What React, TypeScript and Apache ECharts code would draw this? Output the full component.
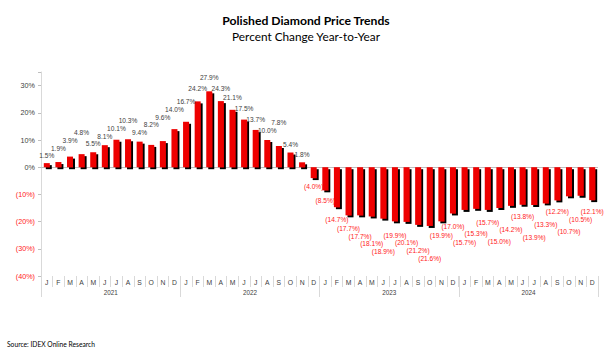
import React, { useEffect, useRef } from 'react';
import * as echarts from 'echarts';

const months = ['J', 'F', 'M', 'A', 'M', 'J', 'J', 'A', 'S', 'O', 'N', 'D'];
const years = ['2021', '2022', '2023', '2024'];
const change2021 = [1.5, 1.9, 3.9, 4.8, 5.5, 8.1, 10.1, 10.3, 9.4, 8.2, 9.6, 14.0];
const change2022 = [16.7, 24.2, 27.9, 24.3, 21.1, 17.5, 13.7, 10.0, 7.8, 5.4, 1.8, -4.0];
const change2023 = [-8.5, -14.7, -17.7, -17.7, -18.1, -18.9, -19.9, -20.1, -21.2, -21.6, -19.9, -17.0];
const change2024 = [-15.7, -15.3, -15.7, -15.0, -14.2, -13.8, -13.9, -13.3, -12.2, -10.7, -10.5, -12.1];
const yTickStep = 10;
const yMin = -40;

const title = 'Polished Diamond Price Trends';
const subtitle = 'Percent Change Year-to-Year';
const source = 'Source: IDEX Online Research';

const fmtPct = (v: number, digits: number) =>
  v < 0 ? `(${Math.abs(v).toFixed(digits)}%)` : `${v.toFixed(digits)}%`;

const LABEL_FONT_SIZE = 6.6;
const LABEL_FONT = 'Liberation Sans';

export default function App() {
  const ref = useRef<HTMLDivElement>(null);
  useEffect(() => {
    if (!ref.current) return;
    const chart = echarts.init(ref.current, null, { renderer: 'svg' });
    const values = [...change2021, ...change2022, ...change2023, ...change2024];
    const categories = years.flatMap((y) => months.map((m, i) => `${m}|${y}|${i}`));
    const red = '#FF1A1A';

    const baseOption: any = {
      animation: false,
      grid: { left: 41, right: 11, top: 72, bottom: 84 },
      graphic: [
        {
          type: 'text',
          x: 306,
          y: 20,
          style: {
            text: title,
            font: 'bold 12.2px Lato',
            fill: '#000',
            textAlign: 'center',
            textVerticalAlign: 'middle',
          },
        },
        {
          type: 'text',
          x: 306,
          y: 36.5,
          style: {
            text: subtitle,
            font: '11.8px Lato',
            fill: '#000',
            textAlign: 'center',
            textVerticalAlign: 'middle',
          },
        },
        {
          type: 'text',
          x: 7,
          y: 344,
          style: {
            text: source,
            font: '6.7px Lato',
            fill: '#000',
            textAlign: 'left',
            textVerticalAlign: 'middle',
          },
        },
      ],
      xAxis: [
        {
          type: 'category',
          data: categories,
          position: 'bottom',
          axisLine: { show: false, onZero: false },
          axisTick: { show: true, interval: 0, length: 11, lineStyle: { color: '#d9d9d9' } },
          axisLabel: {
            interval: 0,
            margin: 3,
            fontSize: 6.8,
            fontFamily: 'Liberation Sans',
            color: '#404040',
            formatter: (v: string) => v.split('|')[0],
          },
        },
        {
          type: 'category',
          data: years,
          position: 'bottom',
          axisLine: { show: false, onZero: false },
          axisTick: { show: true, interval: 0, length: 21, lineStyle: { color: '#d9d9d9' } },
          axisLabel: {
            interval: 0,
            margin: 13,
            fontSize: 6.3,
            fontFamily: 'Liberation Sans',
            color: '#404040',
          },
        },
      ],
      yAxis: {
        type: 'value',
        min: yMin,
        max: 35,
        interval: yTickStep,
        splitLine: { show: false },
        axisLine: { show: true, lineStyle: { color: '#d9d9d9' } },
        axisTick: { show: true, length: 3, lineStyle: { color: '#bfbfbf' } },
        axisLabel: {
          margin: 6,
          fontSize: 7.2,
          fontFamily: 'Liberation Sans',
          color: (v: any) => (Number(v) < 0 ? red : '#404040'),
          formatter: (v: number) => (v % yTickStep === 0 ? fmtPct(v, 0) : ''),
        },
      },
      series: [
        {
          type: 'bar',
          xAxisIndex: 0,
          data: values,
          barWidth: 6,
          itemStyle: {
            color: '#EE0000',
            shadowColor: '#000',
            shadowOffsetX: 2,
            shadowOffsetY: 2,
            shadowBlur: 0,
          },
          label: {
            show: true,
            fontSize: LABEL_FONT_SIZE,
            fontFamily: LABEL_FONT,
            formatter: (p: any) => fmtPct(p.value, 1),
          },
          markLine: {
            silent: true,
            symbol: 'none',
            label: { show: false },
            lineStyle: { color: '#bfbfbf', type: 'solid', width: 1 },
            data: [{ yAxis: 0 }],
            z: 1,
          },
        },
      ],
    };
    chart.setOption(baseOption);

    // Stagger the value labels so neighbours don't collide (like the hand-placed originals).
    const canvas = document.createElement('canvas');
    const ctx = canvas.getContext('2d')!;
    ctx.font = `${LABEL_FONT_SIZE}px "${LABEL_FONT}"`;
    const h = LABEL_FONT_SIZE + 1;
    const placed: { x1: number; x2: number; y1: number; y2: number }[] = [];
    const data = values.map((v, i) => {
      const neg = v < 0;
      const [cx, yEnd] = chart.convertToPixel({ gridIndex: 0 }, [i, v]) as number[];
      const w = ctx.measureText(fmtPct(v, 1)).width + 1;
      const x1 = cx - w / 2;
      const x2 = cx + w / 2;
      const d = neg ? 3 + Math.abs(v) * 0.35 : 3 + v * 0.25;
      let y1 = neg ? yEnd + d : yEnd - d - h;
      let moved = true;
      let guard = 0;
      while (moved && guard++ < 50) {
        moved = false;
        for (const r of placed) {
          if (r.x2 <= x1 || r.x1 >= x2) continue;
          if (r.y2 <= y1 || r.y1 >= y1 + h) continue;
          y1 = neg ? r.y2 : r.y1 - h;
          moved = true;
        }
      }
      placed.push({ x1, x2, y1, y2: y1 + h });
      const dy = neg ? y1 - yEnd : y1 + h - yEnd;
      return {
        value: v,
        label: {
          position: neg ? 'bottom' : 'top',
          distance: 0,
          offset: [0, dy + (neg ? 0.5 : -0.5)],
          color: neg ? red : '#404040',
        },
      };
    });
    chart.setOption({ series: [{ data }] });
    return () => chart.dispose();
  }, []);
  return (
    <div
      ref={ref}
      style={{ position: 'absolute', left: 0, top: 0, width: 609, height: 360, background: '#fff' }}
    />
  );
}
